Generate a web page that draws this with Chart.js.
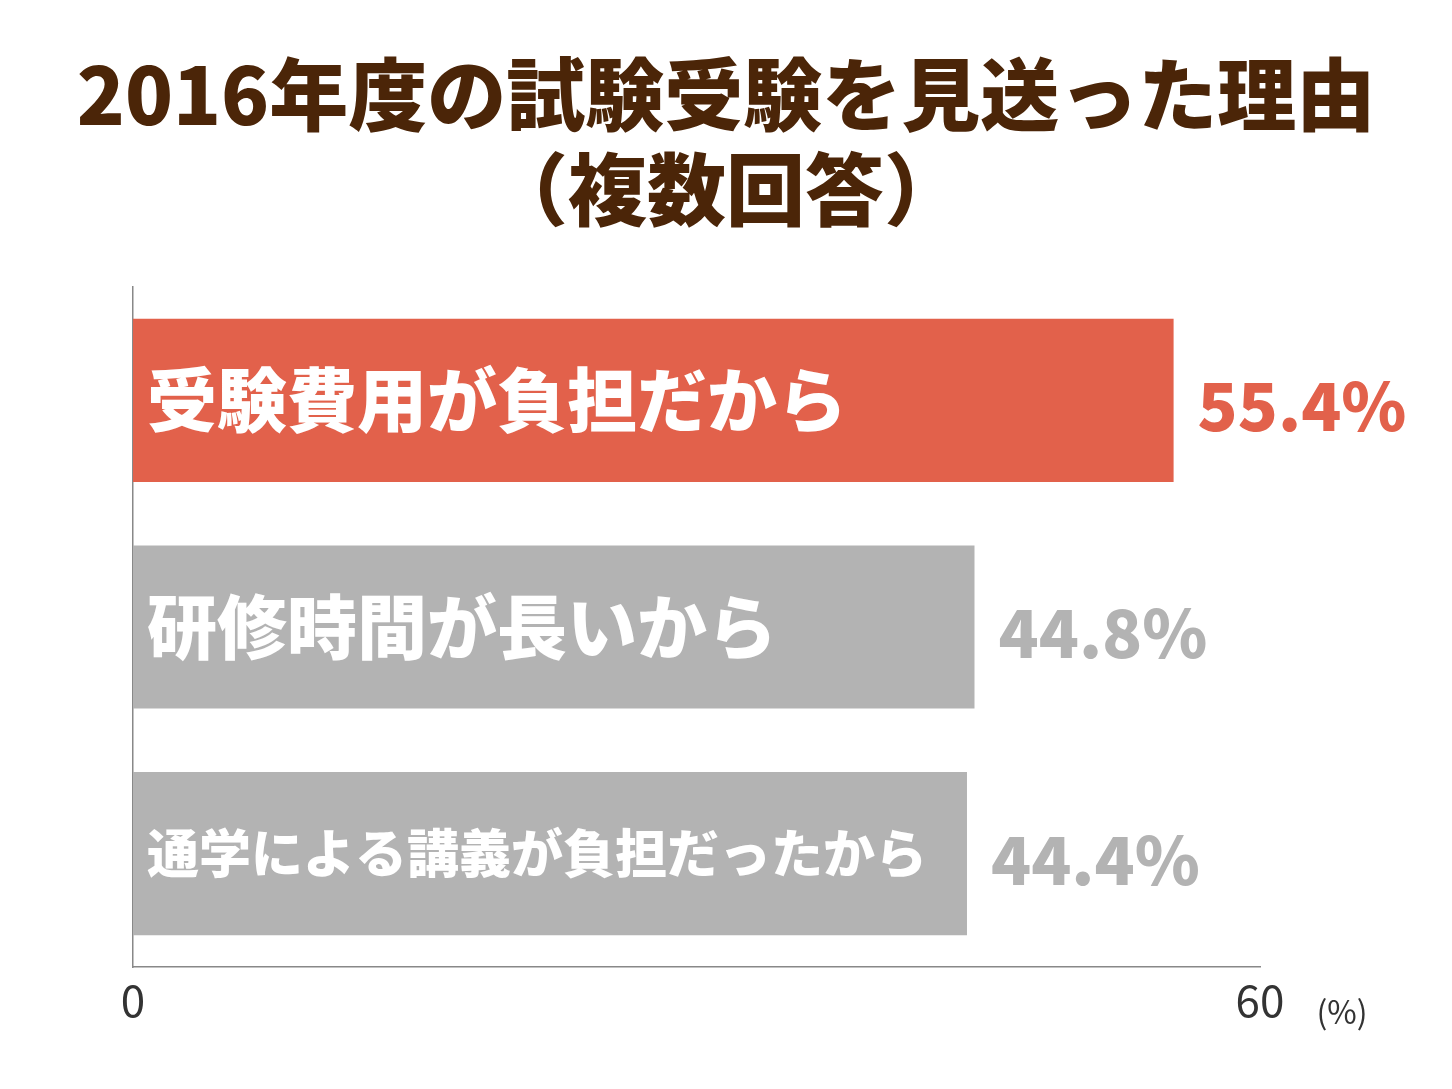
<!DOCTYPE html>
<html><head><meta charset="utf-8">
<script src="https://cdn.jsdelivr.net/npm/chart.js@4"></script>
<style>html,body{margin:0;padding:0;background:#fff;}</style>
</head><body>
<canvas id="c" width="1452" height="1089"></canvas>
<script>
const categories = ["受験費用が負担だから","研修時間が長いから","通学による講義が負担だったから"];
const values = [55.4, 44.8, 44.4];
const valueLabels = ["55.4%","44.8%","44.4%"];
const tickValues = [0, 60];
const barColors = ["#e2614b","#b3b3b3","#b3b3b3"];
const valueColors = ["#e2614b","#b3b3b3","#b3b3b3"];
const labelSizes = [70,70,52];
const FONT = '"Noto Sans CJK JP", "Noto Sans", sans-serif';

const drawPlugin = {
  id:'draw',
  afterDatasetsDraw(chart){
    const ctx = chart.ctx, x = chart.scales.x;
    const meta = chart.getDatasetMeta(0);
    ctx.save();
    meta.data.forEach((bar,i)=>{
      ctx.textBaseline='middle';
      ctx.textAlign='left';
      ctx.fillStyle='#fff';
      ctx.font = `900 ${labelSizes[i]}px ${FONT}`;
      ctx.fillText(categories[i], x.getPixelForValue(0)+14, bar.y);
      ctx.fillStyle=valueColors[i];
      ctx.font = `900 66px ${FONT}`;
      ctx.fillText(valueLabels[i], bar.x+24, bar.y+6);
    });
    ctx.fillStyle='#333';
    ctx.font = `400 44px ${FONT}`;
    ctx.textAlign='center'; ctx.textBaseline='middle';
    tickValues.forEach(v=>ctx.fillText(String(v), x.getPixelForValue(v), 1000));
    ctx.font = `400 32px ${FONT}`;
    ctx.fillText('(%)', x.getPixelForValue(60)+82, 1012);
    ctx.fillStyle='#4b2508';
    ctx.font = `900 79px ${FONT}`;
    ctx.fillText('2016年度の試験受験を見送った理由', 726, 95);
    ctx.fillText('（複数回答）', 726, 190);
    ctx.restore();
  }
};

new Chart(document.getElementById('c'),{
  type:'bar',
  data:{labels:categories,datasets:[{data:values,backgroundColor:barColors,barPercentage:0.72,categoryPercentage:1}]},
  options:{
    indexAxis:'y',responsive:false,animation:false,devicePixelRatio:1,
    layout:{padding:{left:125,right:192,top:287,bottom:114}},
    plugins:{legend:{display:false},tooltip:{enabled:false},title:{display:false}},
    scales:{
      x:{min:0,max:60,ticks:{display:false},grid:{display:false},border:{display:true,color:'#888',width:1.5}},
      y:{ticks:{display:false},grid:{display:false},border:{display:true,color:'#888',width:1.5}}
    }
  },
  plugins:[drawPlugin]
});
</script>
</body></html>
